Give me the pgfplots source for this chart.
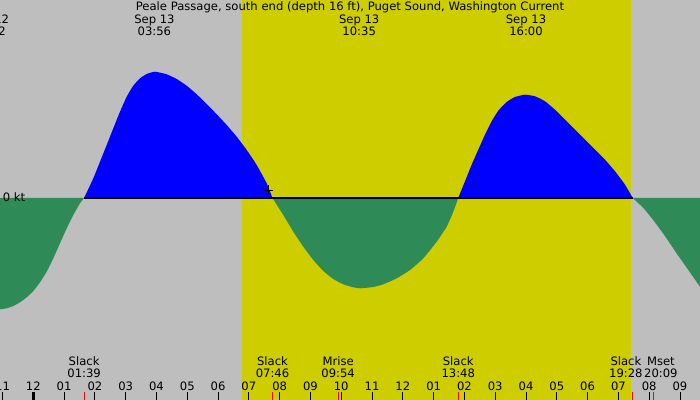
\documentclass[border=0pt]{standalone}
\usepackage{fontspec}
\setmainfont{DejaVu Sans}
\usepackage{pgfplots}
\pgfplotsset{compat=1.18}
\definecolor{bg}{RGB}{190,190,190}
\definecolor{day}{RGB}{205,205,0}
\definecolor{ebb}{RGB}{46,139,87}
\definecolor{flood}{RGB}{0,0,255}
\begin{document}
\begin{tikzpicture}[font=\fontsize{11.6bp}{12bp}\selectfont]
\begin{axis}[
    at={(0,0)}, anchor=south west,
    scale only axis, width=700bp, height=400bp,
    xmin=-1.0813, xmax=21.65, ymin=-2.02, ymax=1.98,
    axis on top,
    axis line style={draw=none},
    axis background/.style={fill=bg},
    ytick=\empty,
    xtick={-1,...,21},
    xticklabels={11,12,01,02,03,04,05,06,07,08,09,10,11,12,01,02,03,04,05,06,07,08,09},
    xtick pos=bottom, tick align=inside,
    major tick length=8bp,
    tick style={black, line width=0.8bp},
    xticklabel style={anchor=base, yshift=10bp, inner sep=0pt},
    /pgf/number format/assume math mode=true,
    clip=false,
]
% daylight 06:47 - 19:24
\fill[day] (axis cs:6.783,-2.02) rectangle (axis cs:19.4,1.98);

% ebb before first slack
\addplot[fill=ebb, draw=none, smooth, tension=0.3] coordinates {
  (-1.081,-1.113) (-0.864,-1.103) (-0.649,-1.08) (-0.432,-1.043)
  (-0.214,-0.993) (0,-0.93) (0.218,-0.843) (0.435,-0.737) (0.649,-0.603)
  (0.867,-0.453) (1.085,-0.303) (1.299,-0.17) (1.516,-0.053) (1.65,0)} \closedcycle;
% flood 03:56
\addplot[fill=flood, draw=none, smooth, tension=0.3] coordinates {
  (1.65,0) (1.948,0.197) (2.166,0.363) (2.383,0.53) (2.598,0.697)
  (2.815,0.863) (3.033,1.013) (3.247,1.123) (3.465,1.197) (3.682,1.24)
  (3.95,1.263) (4.332,1.237) (4.657,1.19) (4.981,1.123) (5.306,1.037)
  (5.631,0.94) (5.956,0.837) (6.280,0.73) (6.605,0.613) (6.930,0.48)
  (7.254,0.33) (7.579,0.147) (7.767,0)} \closedcycle;
% ebb 10:35
\addplot[fill=ebb, draw=none, smooth, tension=0.3] coordinates {
  (7.767,0) (8.118,-0.17) (8.443,-0.337) (8.768,-0.487) (9.092,-0.62)
  (9.417,-0.73) (9.742,-0.81) (10.067,-0.863) (10.391,-0.893)
  (10.62,-0.903) (11.041,-0.89) (11.366,-0.863) (11.801,-0.803)
  (12.233,-0.72) (12.664,-0.603) (13.099,-0.437) (13.424,-0.287)
  (13.639,-0.137) (13.8,0)} \closedcycle;
% flood 16:00
\addplot[fill=flood, draw=none, smooth, tension=0.3] coordinates {
  (13.8,0) (14.018,0.167) (14.236,0.333) (14.45,0.483) (14.668,0.633)
  (14.885,0.767) (15.1,0.873) (15.373,0.96) (15.642,1.01) (15.967,1.033)
  (16.292,1.017) (16.616,0.967) (16.941,0.883) (17.266,0.783)
  (17.591,0.683) (17.915,0.583) (18.24,0.483) (18.565,0.383)
  (18.89,0.267) (19.214,0.133) (19.467,0)} \closedcycle;
% ebb after last slack
\addplot[fill=ebb, draw=none, smooth, tension=0.3] coordinates {
  (19.467,0) (19.81,-0.10) (20.13,-0.22) (20.51,-0.38) (20.89,-0.553)
  (21.27,-0.72) (21.65,-0.887)} \closedcycle;

% zero line
\addplot[black, line width=1.2bp] coordinates {(1.65,0) (19.467,0)};
% now marker
\addplot[only marks, mark=+, mark size=4.5bp, black, line width=0.8bp] coordinates {(7.63,0.08)};

% special ticks: midnight, slacks, moon rise/set
\draw[black, line width=3bp] (axis cs:0,-2.02) -- (axis cs:0,-1.94);
\draw[red, line width=0.8bp] (axis cs:1.65,-2.02) -- (axis cs:1.65,-1.94);
\draw[red, line width=0.8bp] (axis cs:7.767,-2.02) -- (axis cs:7.767,-1.94);
\draw[red, line width=0.8bp] (axis cs:9.9,-2.02) -- (axis cs:9.9,-1.94);
\draw[red, line width=0.8bp] (axis cs:13.8,-2.02) -- (axis cs:13.8,-1.94);
\draw[red, line width=0.8bp] (axis cs:19.467,-2.02) -- (axis cs:19.467,-1.94);
\draw[red, line width=0.8bp] (axis cs:20.15,-2.02) -- (axis cs:20.15,-1.94);

% title
\node[anchor=base] at (axis cs:10.283,1.87)
  {Peale Passage, south end (depth 16 ft), Puget Sound, Washington Current};
% extremes
\node[anchor=base] at (axis cs:-1.44,1.745) {Sep 12};
\node[anchor=base] at (axis cs:-1.44,1.625) {22:32};
\node[anchor=base] at (axis cs:3.933,1.745) {Sep 13};
\node[anchor=base] at (axis cs:3.933,1.625) {03:56};
\node[anchor=base] at (axis cs:10.583,1.745) {Sep 13};
\node[anchor=base] at (axis cs:10.583,1.625) {10:35};
\node[anchor=base] at (axis cs:16.0,1.745) {Sep 13};
\node[anchor=base] at (axis cs:16.0,1.625) {16:00};
% zero label
\node[anchor=base west, inner sep=0pt] at (axis cs:-0.994,-0.037) {0 kt};
% events
\node[anchor=base] at (axis cs:1.65,-1.677) {Slack};
\node[anchor=base] at (axis cs:1.65,-1.797) {01:39};
\node[anchor=base] at (axis cs:7.767,-1.677) {Slack};
\node[anchor=base] at (axis cs:7.767,-1.797) {07:46};
\node[anchor=base] at (axis cs:9.9,-1.677) {Mrise};
\node[anchor=base] at (axis cs:9.9,-1.797) {09:54};
\node[anchor=base] at (axis cs:13.8,-1.677) {Slack};
\node[anchor=base] at (axis cs:13.8,-1.797) {13:48};
\node[anchor=base] at (axis cs:19.244,-1.677) {Slack};
\node[anchor=base] at (axis cs:19.244,-1.797) {19:28};
\node[anchor=base] at (axis cs:20.38,-1.677) {Mset};
\node[anchor=base] at (axis cs:20.38,-1.797) {20:09};
\end{axis}
\pgfresetboundingbox
\path[use as bounding box] (0,0) rectangle (700bp,400bp);
\end{tikzpicture}
\end{document}
